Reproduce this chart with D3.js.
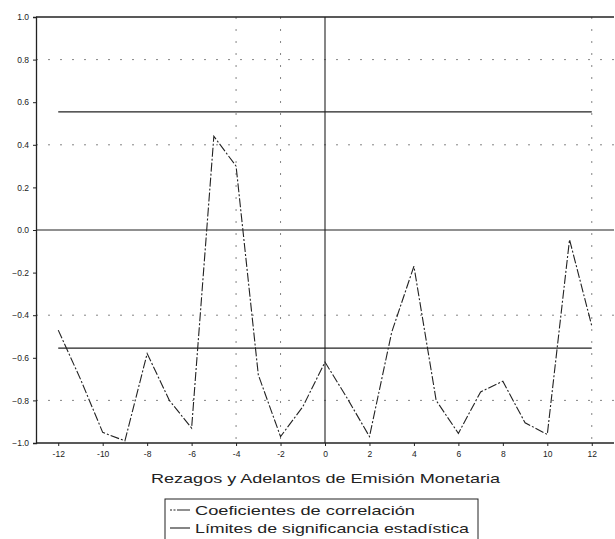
<!DOCTYPE html>
<html><head><meta charset="utf-8">
<script src="https://cdn.jsdelivr.net/npm/d3@7"></script>
<style>body{margin:0;background:#fff}svg{display:block}</style>
</head><body>
<script>
const lags = d3.range(-12, 13);
const coef = [-0.47,-0.70,-0.95,-0.99,-0.58,-0.80,-0.93,0.44,0.30,-0.68,-0.97,-0.83,-0.62,-0.79,-0.97,-0.48,-0.17,-0.80,-0.955,-0.76,-0.71,-0.905,-0.96,-0.045,-0.45];
const sigLimit = [0.555, -0.555];
const xTicks = [-12,-10,-8,-6,-4,-2,0,2,4,6,8,10,12];
const yTicks = [1.0,0.8,0.6,0.4,0.2,0.0,-0.2,-0.4,-0.6,-0.8,-1.0];
const gridY = [0.8,0.4,-0.4,-0.8];
const gridX = [-4,-2,12];
const titleText = "Rezagos y Adelantos de Emisión Monetaria";
const legendLabels = ["Coeficientes de correlación","Límites de significancia estadística"];

const W=615,H=539;
const svg=d3.select("body").append("svg").attr("width",W).attr("height",H);
const x=d3.scaleLinear().domain([-13,13]).range([36,614]);
const y=d3.scaleLinear().domain([-1,1]).range([443,17]);
const ink="#222";
const font="Liberation Sans, Arial, sans-serif";

// dotted grid
svg.append("g").selectAll("line").data(gridY).join("line")
 .attr("x1",x(-13)).attr("x2",x(13)).attr("y1",d=>y(d)).attr("y2",d=>y(d))
 .attr("stroke","#666").attr("stroke-width",0.8).attr("stroke-dasharray","2,10");
svg.append("g").selectAll("line").data(gridX).join("line")
 .attr("x1",d=>x(d)).attr("x2",d=>x(d)).attr("y1",y(1)).attr("y2",y(-1))
 .attr("stroke","#666").attr("stroke-width",0.8).attr("stroke-dasharray","2,10");

// frame lines
svg.append("line").attr("x1",x(-13)).attr("x2",x(13)).attr("y1",y(1)).attr("y2",y(1)).attr("stroke",ink).attr("stroke-width",1.3);
svg.append("line").attr("x1",x(-13)).attr("x2",x(13)).attr("y1",y(0)).attr("y2",y(0)).attr("stroke",ink).attr("stroke-width",1.1);
svg.append("line").attr("x1",x(0)).attr("x2",x(0)).attr("y1",y(1)).attr("y2",y(-1)).attr("stroke",ink).attr("stroke-width",1.1);

// axes
const ya=svg.append("g").attr("transform",`translate(${x(-13)},0)`)
 .call(d3.axisLeft(y).tickValues(yTicks).tickSize(3).tickPadding(4).tickFormat(d3.format(".1f")));
const xa=svg.append("g").attr("transform",`translate(0,${y(-1)})`)
 .call(d3.axisBottom(x).tickValues(xTicks).tickSize(3).tickPadding(5).tickFormat(d=>d));
[ya,xa].forEach(a=>{a.select(".domain").attr("stroke",ink).attr("stroke-width",1.3);
 a.selectAll(".tick line").attr("stroke",ink);
 a.selectAll("text").attr("fill",ink).attr("font-family",font).attr("font-size",8.5);});
xa.select(".domain").attr("d",`M${x(-13)},0H${x(13)}`);

// significance limits
svg.append("g").selectAll("line").data(sigLimit).join("line")
 .attr("x1",x(-12)).attr("x2",x(12)).attr("y1",d=>y(d)).attr("y2",d=>y(d))
 .attr("stroke",ink).attr("stroke-width",1.2);

// correlation line
const line=d3.line().x((d,i)=>x(lags[i])).y(d=>y(d));
svg.append("path").datum(coef).attr("d",line).attr("fill","none")
 .attr("stroke",ink).attr("stroke-width",1.1).attr("stroke-dasharray","9,2,2,2");

// title
svg.append("text").attr("x",151).attr("y",483)
 .attr("font-family",font).attr("font-size",13.5).attr("fill",ink)
 .attr("textLength",349).attr("lengthAdjust","spacingAndGlyphs")
 .text(titleText);

// legend
const lg=svg.append("g");
lg.append("rect").attr("x",165).attr("y",499).attr("width",313).attr("height",50).attr("fill","none").attr("stroke",ink).attr("stroke-width",1);
const legendWidths=[220,274];
legendLabels.forEach((t,i)=>{
 const yy=510+i*18;
 lg.append("line").attr("x1",170).attr("x2",190).attr("y1",yy).attr("y2",yy).attr("stroke",ink).attr("stroke-width",1.1)
  .attr("stroke-dasharray",i===0?"2,1.5,2,1.5,20":null);
 lg.append("text").attr("x",195).attr("y",yy+5).attr("font-family",font).attr("font-size",13.5).attr("fill",ink)
  .attr("textLength",legendWidths[i]).attr("lengthAdjust","spacingAndGlyphs").text(t);
});
</script>
</body></html>
